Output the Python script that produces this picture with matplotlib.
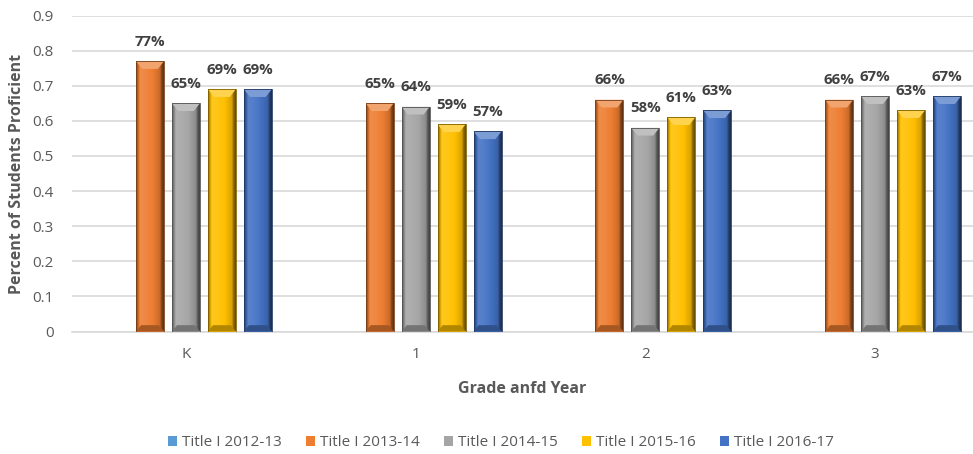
import numpy as np
import matplotlib
matplotlib.use("Agg")
import matplotlib.pyplot as plt
from matplotlib.colors import to_rgb
from matplotlib.patches import Patch

plt.rcParams['font.family'] = ['Open Sans', 'DejaVu Sans']

categories = ["K", "1", "2", "3"]
series_names = ["Title I 2012-13", "Title I 2013-14", "Title I 2014-15",
                "Title I 2015-16", "Title I 2016-17"]
values_2012_13 = [np.nan, np.nan, np.nan, np.nan]
values_2013_14 = [0.77, 0.65, 0.66, 0.66]
values_2014_15 = [0.65, 0.64, 0.58, 0.67]
values_2015_16 = [0.69, 0.59, 0.61, 0.63]
values_2016_17 = [0.69, 0.57, 0.63, 0.67]
series_values = [values_2012_13, values_2013_14, values_2014_15,
                 values_2015_16, values_2016_17]
colors = ["#5B9BD5", "#ED7D31", "#A5A5A5", "#FFC000", "#4472C4"]
yticks = [0, 0.1, 0.2, 0.3, 0.4, 0.5, 0.6, 0.7, 0.8, 0.9]

W, H = 973, 454
fig = plt.figure(figsize=(W / 100, H / 100), dpi=100)
ax = fig.add_axes([72 / W, 122.5 / H, (973 - 72) / W, 316 / H])

x = np.arange(len(categories))
slot = 36 / 230
bw = 28 / 230
text_col = "#404040"
tick_col = "#595959"


def shade(c, f):
    r = np.array(to_rgb(c))
    if f >= 0:
        return r + (1 - r) * f
    return r * (1 + f)


for i, (vals, col) in enumerate(zip(series_values, colors)):
    offs = (i - 2) * slot
    v = np.array(vals, dtype=float)
    bars = ax.bar(x + offs, np.nan_to_num(v), width=bw, color=col,
                  edgecolor="none", zorder=3)
    for b, val in zip(bars, v):
        if np.isnan(val):
            b.set_visible(False)
            continue
        x0, w_, h_ = b.get_x(), b.get_width(), b.get_height()
        t = np.linspace(0, 1, 64)
        prof = np.interp(t, [0, 0.08, 0.14, 0.35, 0.6, 0.86, 0.92, 1.0],
                         [-0.45, -0.15, 0.12, 0.08, 0.0, -0.15, -0.45, -0.6])
        img = np.array([[shade(col, f) for f in prof]])
        im = ax.imshow(img, extent=[x0, x0 + w_, 0, h_], aspect="auto",
                       zorder=4, interpolation="bilinear")
        im.set_clip_path(b)
        topH = 0.022
        tri = plt.Polygon([[x0, h_], [x0 + w_, h_], [x0 + w_ * 0.78, h_ - topH],
                           [x0 + w_ * 0.22, h_ - topH]], closed=True,
                          facecolor=shade(col, 0.3), edgecolor="none", zorder=5)
        ax.add_patch(tri)
        bot = plt.Polygon([[x0, 0], [x0 + w_, 0], [x0 + w_ * 0.82, 0.018],
                           [x0 + w_ * 0.18, 0.018]], closed=True,
                          facecolor=shade(col, -0.3), edgecolor="none", zorder=5)
        ax.add_patch(bot)
        ax.add_patch(plt.Rectangle((x0, 0), w_, h_, facecolor="none",
                                   edgecolor=shade(col, -0.5), linewidth=0.6,
                                   zorder=6))
        ax.annotate(f"{val * 100:.0f}%", (x0 + w_ / 2, h_),
                    xytext=(0, 9), textcoords="offset points",
                    ha="center", va="bottom", fontsize=10.8,
                    fontweight="bold", color=text_col, zorder=7)

ax.set_xlim(-0.496, 3.426)
ax.set_ylim(0, 0.9)
ax.set_yticks(yticks)
ax.set_yticklabels([f"{t:g}" for t in yticks])
ax.set_xticks(x)
ax.set_xticklabels(categories)
ax.tick_params(axis="both", length=0, colors=tick_col, labelsize=11)
ax.tick_params(axis="y", pad=13)
ax.tick_params(axis="x", pad=11)
ax.grid(axis="y", color="#D9D9D9", linewidth=1.2, zorder=0)
for s in ["top", "right", "left"]:
    ax.spines[s].set_visible(False)
ax.spines["bottom"].set_color("#D9D9D9")
ax.spines["bottom"].set_linewidth(1.2)

ax.set_ylabel("Percent of Students Proficient", fontsize=11.5,
              fontweight="bold", color=tick_col)
ax.yaxis.set_label_coords(-(72 - 25) / (973 - 72), 0.5)
ax.set_xlabel("Grade anfd Year", fontsize=11.5, fontweight="bold",
              color=tick_col, labelpad=14)

handles = [Patch(facecolor=c, edgecolor="none") for c in colors]
fig.legend(handles, series_names, loc="center", ncol=5,
           bbox_to_anchor=(501 / W, 11 / H), frameon=False,
           fontsize=11, labelcolor=tick_col, handlelength=0.6,
           handleheight=0.6, handletextpad=0.3, columnspacing=1.6)

fig.savefig("out.png", dpi=100)
